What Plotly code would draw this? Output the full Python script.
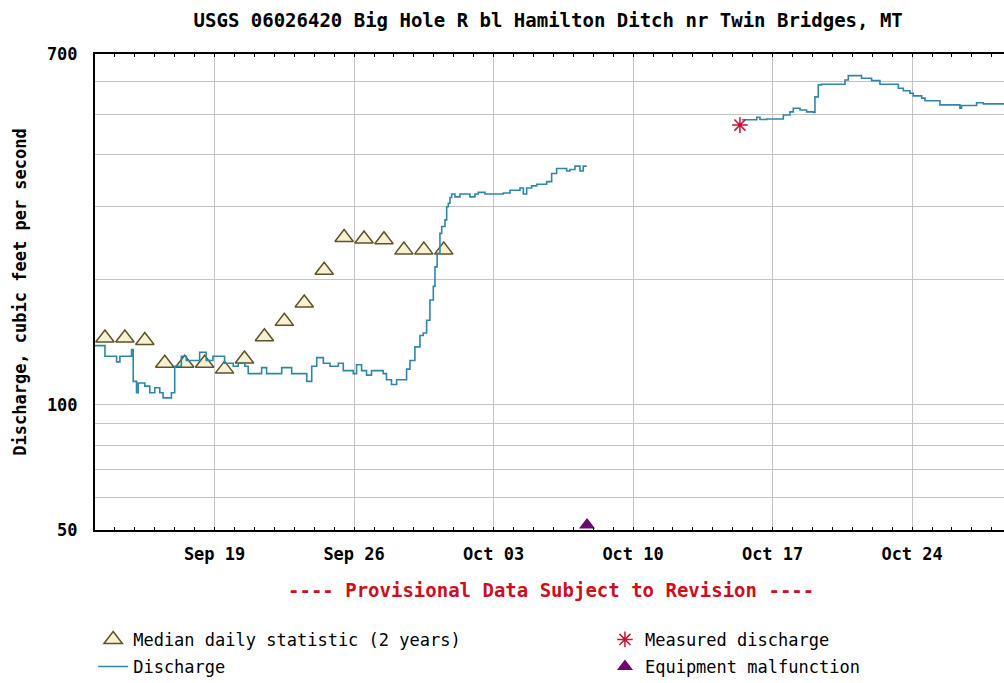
import plotly.graph_objects as go

# ---------------- data ----------------
median_dates = ["2017-09-%02d 12:00" % d for d in range(13, 31)]
median_cfs = [145, 145, 143, 126, 126, 126, 122, 129, 146, 159, 176, 211, 253, 251, 250, 236, 236, 236]

q1_time = [
    "2017-09-13 00:00", "2017-09-13 12:00", "2017-09-14 02:00", "2017-09-14 06:00", "2017-09-14 20:00",
    "2017-09-14 22:00", "2017-09-15 02:00", "2017-09-15 04:00", "2017-09-15 12:00", "2017-09-15 18:00",
    "2017-09-16 00:00", "2017-09-16 06:00", "2017-09-16 10:00", "2017-09-16 20:00", "2017-09-17 00:00",
    "2017-09-17 08:00", "2017-09-17 14:00", "2017-09-18 06:00", "2017-09-18 14:00", "2017-09-18 22:00",
    "2017-09-19 12:00", "2017-09-19 22:30", "2017-09-20 04:30", "2017-09-20 12:30", "2017-09-20 16:30",
    "2017-09-21 08:40", "2017-09-21 14:40", "2017-09-22 08:50", "2017-09-22 20:50", "2017-09-23 15:00",
    "2017-09-23 21:00", "2017-09-24 03:00", "2017-09-24 11:00", "2017-09-24 19:00", "2017-09-25 05:00",
    "2017-09-25 11:00", "2017-09-25 23:00", "2017-09-26 03:00", "2017-09-26 09:00", "2017-09-26 15:00",
    "2017-09-26 21:00", "2017-09-27 11:00", "2017-09-27 15:00", "2017-09-27 21:00", "2017-09-28 03:15",
    "2017-09-28 15:15", "2017-09-28 19:15", "2017-09-29 01:15", "2017-09-29 07:20", "2017-09-29 11:20",
    "2017-09-29 15:20", "2017-09-29 19:20", "2017-09-29 23:25", "2017-09-30 01:25", "2017-09-30 04:00",
    "2017-09-30 07:25", "2017-09-30 09:30", "2017-09-30 13:30", "2017-09-30 15:30", "2017-09-30 17:30",
    "2017-09-30 19:30", "2017-09-30 21:30", "2017-10-01 01:30", "2017-10-01 07:30", "2017-10-01 19:35",
    "2017-10-02 01:35", "2017-10-02 05:35", "2017-10-02 13:35", "2017-10-03 11:40", "2017-10-03 19:50",
    "2017-10-04 07:50", "2017-10-04 11:50", "2017-10-04 15:50", "2017-10-04 21:50", "2017-10-05 03:55",
    "2017-10-05 15:55", "2017-10-05 21:55", "2017-10-06 03:55", "2017-10-06 16:00", "2017-10-06 20:00",
    "2017-10-07 02:00", "2017-10-07 08:00", "2017-10-07 12:00", "2017-10-07 16:05",
]
q1_cfs = [
    139, 131, 127, 131, 136,
    114, 107, 113, 111, 107,
    110, 107, 104, 107, 124,
    131, 128, 134, 128, 131,
    126, 124, 126, 124, 119,
    123, 119, 123, 119, 114,
    124, 130, 126, 124, 126,
    121, 119, 125, 121, 118,
    121, 119, 115, 112, 115,
    122, 128, 138, 147, 149,
    160, 179, 193, 215, 232,
    259, 269, 279, 300, 306,
    316, 322, 317, 322, 317,
    322, 325, 322, 324, 329,
    333, 322, 333, 337, 340,
    345, 361, 371, 366, 369,
    376, 366, 376, 376,
]

q2_time = [
    "2017-10-15 11:00", "2017-10-16 04:50", "2017-10-16 08:50", "2017-10-16 16:50", "2017-10-17 12:55",
    "2017-10-17 20:55", "2017-10-18 00:55", "2017-10-18 09:00", "2017-10-18 17:00", "2017-10-19 01:00",
    "2017-10-19 03:00", "2017-10-19 07:00", "2017-10-19 11:00", "2017-10-20 15:10", "2017-10-20 19:10",
    "2017-10-21 11:10", "2017-10-21 23:15", "2017-10-22 09:15", "2017-10-23 07:25", "2017-10-23 13:25",
    "2017-10-23 21:25", "2017-10-24 01:25", "2017-10-24 11:30", "2017-10-24 15:30", "2017-10-25 09:30",
    "2017-10-26 09:35", "2017-10-26 11:35", "2017-10-27 05:40", "2017-10-27 13:40", "2017-10-28 14:40",
]
q2_cfs = [
    486, 493, 487, 488, 499,
    508, 518, 513, 508, 506,
    552, 590, 592, 606, 621,
    612, 604, 592, 579, 571,
    563, 555, 548, 540, 528,
    518, 526, 534, 531, 531,
]

measured_time = ["2017-10-15 08:40"]
measured_cfs = [472]

malfunction_time = ["2017-10-07 16:30"]
malfunction_cfs = [51.4]

y_tickvals = [50, 60, 70, 80, 90, 100, 200, 300, 400, 500, 600, 700]
y_ticktext = ["50", "", "", "", "", "100", "", "", "", "", "", "700"]

x_range = ["2017-09-13 00:00", "2017-10-28 14:40"]

# ---------------- figure ----------------
FONT = "DejaVu Sans Mono"
BOLD = dict(family=FONT, size=17, color="black", weight="bold")
LEGEND_FONT = dict(family=FONT, size=17, color="black")

fig = go.Figure()

fig.add_trace(go.Scatter(
    x=median_dates, y=median_cfs, mode="markers", name="Median daily statistic (2 years)",
    marker=dict(symbol="triangle-up", size=16, color="#f7f1d3",
                line=dict(color="#5e5328", width=1.5)),
    cliponaxis=False, legend="legend", legendgroup="a",
))
fig.add_trace(go.Scatter(
    x=q1_time + [None] + q2_time, y=q1_cfs + [None] + q2_cfs, mode="lines", name="Discharge",
    line=dict(color="#2f86a6", width=1.6, shape="hv"), connectgaps=False,
    legend="legend", legendgroup="b",
))
fig.add_trace(go.Scatter(
    x=measured_time, y=measured_cfs, mode="markers", name="Measured discharge",
    marker=dict(symbol="asterisk-open", size=13, color="#cc1133",
                line=dict(color="#cc1133", width=1.5)),
    legend="legend2", legendgroup="c",
))
fig.add_trace(go.Scatter(
    x=malfunction_time, y=malfunction_cfs, mode="markers", name="Equipment malfunction",
    marker=dict(symbol="triangle-up", size=14, color="#6a0a6e"),
    cliponaxis=False, legend="legend2", legendgroup="d",
))

fig.update_layout(
    width=1004, height=683,
    margin=dict(l=95, r=0, t=54, b=153, autoexpand=False),
    paper_bgcolor="white", plot_bgcolor="white",
    title=dict(text="USGS 06026420 Big Hole R bl Hamilton Ditch nr Twin Bridges, MT",
               x=0.546, xanchor="center", y=1 - 20 / 683, yanchor="middle", yref="container",
               font=dict(family=FONT, size=19, color="black", weight="bold")),
    showlegend=True,
    legend=dict(orientation="v", x=-0.002, xanchor="left", y=-0.193, yanchor="top",
                tracegroupgap=2, font=LEGEND_FONT, bgcolor="rgba(0,0,0,0)"),
    legend2=dict(orientation="v", x=0.561, xanchor="left", y=-0.193, yanchor="top",
                 tracegroupgap=2, font=LEGEND_FONT, bgcolor="rgba(0,0,0,0)"),
)

fig.update_xaxes(
    type="date", range=x_range,
    tick0="2017-09-19", dtick=7 * 86400000, tickformat="%b %d",
    ticks="inside", ticklen=3, tickcolor="black",
    showgrid=True, gridcolor="#c4c4c4", gridwidth=1,
    showline=True, linecolor="black", linewidth=2, mirror="ticks",
    minor=dict(dtick=86400000, ticks="inside", ticklen=3, tickcolor="black", showgrid=False),
    tickfont=BOLD, ticklabelstandoff=8,
    zeroline=False, automargin=False,
)
fig.update_yaxes(
    type="log", range=[1.69897, 2.845098],
    tickmode="array", tickvals=y_tickvals, ticktext=y_ticktext,
    ticks="", showgrid=True, gridcolor="#c4c4c4", gridwidth=1,
    showline=True, linecolor="black", linewidth=2, mirror=False,
    tickfont=BOLD, ticklabelstandoff=12,
    title=dict(text="Discharge, cubic feet per second", font=BOLD, standoff=16),
    zeroline=False, automargin=False,
)

fig.add_annotation(
    text="---- Provisional Data Subject to Revision ----",
    xref="paper", yref="paper", x=0.502, y=-0.126, xanchor="center", yanchor="middle",
    showarrow=False, font=dict(family=FONT, size=19, color="#cc1022", weight="bold"),
)

fig.write_html("out.html", config={"displayModeBar": False},
               post_script="document.body.style.margin='0';")
